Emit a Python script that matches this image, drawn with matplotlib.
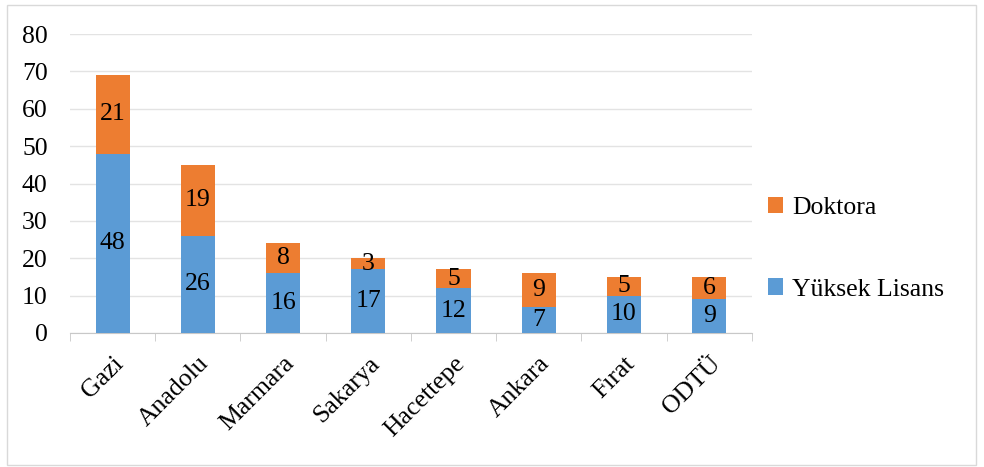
import matplotlib
matplotlib.use("Agg")
import matplotlib.pyplot as plt
from matplotlib.patches import Rectangle
import numpy as np

# universities and thesis counts
universities = ["Gazi", "Anadolu", "Marmara", "Sakarya", "Hacettepe", "Ankara", "Fırat", "ODTÜ"]
yuksek_lisans = [48, 26, 16, 17, 12, 7, 10, 9]
doktora = [21, 19, 8, 3, 5, 9, 5, 6]

plt.rcParams["font.family"] = ["Liberation Serif", "DejaVu Serif"]
fs = 18.5

fig = plt.figure(figsize=(9.84, 4.67), dpi=100)
ax = fig.add_axes([0.0711, 0.287, 0.693, 0.64])

x = np.arange(len(universities))
b1 = ax.bar(x, yuksek_lisans, width=0.4, color="#5B9BD5", label="Yüksek Lisans", zorder=3)
b2 = ax.bar(x, doktora, width=0.4, bottom=yuksek_lisans, color="#ED7D31", label="Doktora", zorder=3)
ax.bar_label(b1, label_type="center", fontsize=fs)
ax.bar_label(b2, label_type="center", fontsize=fs)

ax.set_xlim(-0.5, len(universities) - 0.5)
ax.set_ylim(0, 80)
ax.set_yticks(range(0, 81, 10))
ax.yaxis.grid(True, color="#e3e3e3", linewidth=1)
ax.set_axisbelow(True)

ax.set_xticks(x)
ax.set_xticklabels(universities, rotation=45, ha="right", va="top", rotation_mode="anchor", fontsize=fs)
ax.tick_params(axis="x", which="major", length=0, pad=14)
ax.set_xticks(np.arange(-0.5, len(universities)), minor=True)
ax.tick_params(axis="x", which="minor", length=6, color="#c8c8c8", direction="out")
ax.tick_params(axis="y", length=0, labelsize=fs, pad=16)

for s in ["top", "right", "left"]:
    ax.spines[s].set_visible(False)
ax.spines["bottom"].set_color("#c8c8c8")

handles = [b2, b1]
fig.legend(handles, ["Doktora", "Yüksek Lisans"], loc="center left", bbox_to_anchor=(0.757, 0.467),
           frameon=False, fontsize=fs, labelspacing=2.3, handlelength=0.6, handleheight=0.6,
           handletextpad=0.35)

# outer chart border
fig.patches.append(Rectangle((0.007, 0.004), 0.985, 0.985, transform=fig.transFigure,
                             fill=False, edgecolor="#d9d9d9", linewidth=1))

fig.savefig("out.png", dpi=100)
